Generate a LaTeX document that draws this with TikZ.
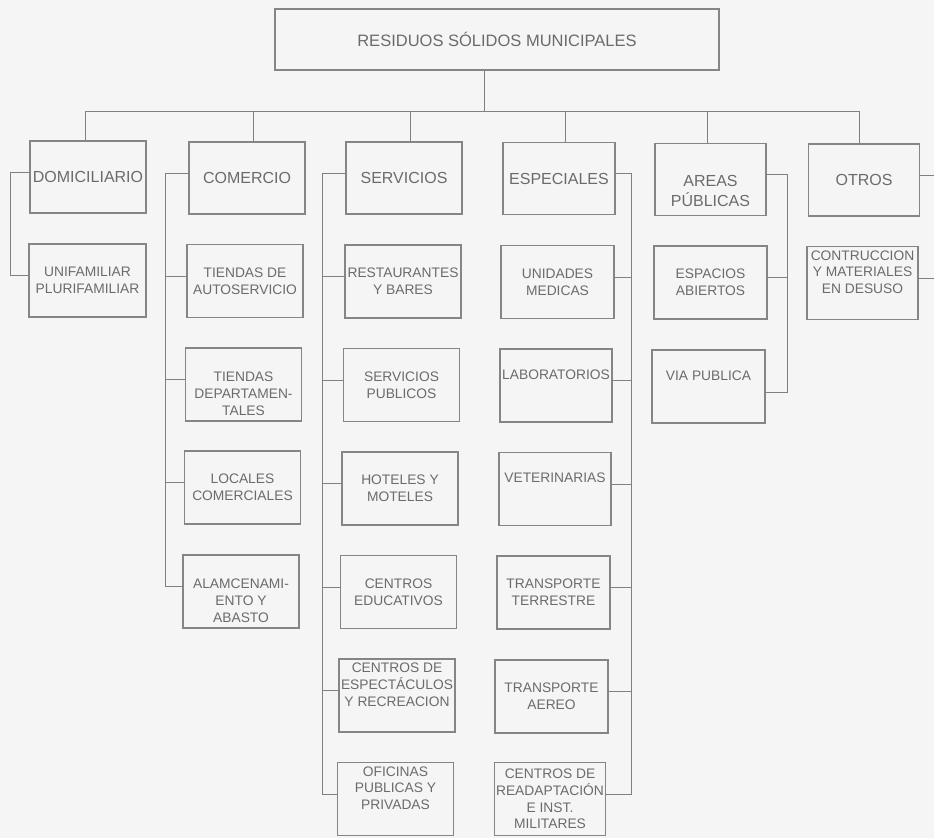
\documentclass[tikz,border=0pt]{standalone}
\usepackage{fontspec}
\setmainfont{Liberation Sans}
\usetikzlibrary{calc}

\tikzset{
	wire/.style={line width=1pt, color=black!50},
	boxline/.style={draw=black!48, line width=1.5pt, text=black!58, align=center, inner sep=1pt},
	titlebox/.style={boxline, minimum width=444pt, minimum height=61pt, font=\fontsize{16.5}{20}\selectfont},
	catbox/.style={boxline, minimum width=116pt, minimum height=72pt, font=\fontsize{16}{20}\selectfont},
	subbox/.style={boxline, minimum width=116pt, minimum height=73pt, font=\fontsize{13.8}{16.7}\selectfont},
}

\begin{document}
\begin{tikzpicture}[x=1pt, y=-1pt]
		%%%%% START %%%%%
		
		\fill[black!4] (0, 0) rectangle (934, 838);
		\useasboundingbox (0, 0) rectangle (934, 838);
		
		\node[titlebox] (rsm) at (497, 39.5) {RESIDUOS SÓLIDOS MUNICIPALES};
		
		\node[catbox] (dom) at (88, 177) {DOMICILIARIO};
		\node[catbox] (com) at (247, 178) {COMERCIO};
		\node[catbox] (ser) at (404, 178) {SERVICIOS};
		\node[catbox, minimum width=112pt] (esp) at (559, 178.5) {ESPECIALES};
		\node[catbox, minimum width=111pt] (are) at (710.5, 179.5) {\strut\\AREAS\\PÚBLICAS};
		\node[catbox, minimum width=111pt] (otr) at (864, 180) {OTROS};
		
		\coordinate (bus) at (484, 111);
		\draw[wire] (bus |- rsm.south) -- (bus);
		\coordinate (domtop) at ([xshift=-3]dom.north);
		\coordinate (comtop) at ([xshift=6]com.north);
		\coordinate (sertop) at ([xshift=6]ser.north);
		\coordinate (esptop) at ([xshift=6]esp.north);
		\coordinate (aretop) at ([xshift=-3]are.north);
		\coordinate (otrtop) at ([xshift=-5]otr.north);
		\foreach \n in {domtop, comtop, sertop, esptop, aretop, otrtop}
			\draw[wire] (\n) -- (\n |- bus);
		\draw[wire] (domtop |- bus) -- (otrtop |- bus);
		
		% domiciliario
		\node[subbox, minimum width=117pt] (uni) at (87.5, 280.5) {UNIFAMILIAR\\PLURIFAMILIAR};
		\coordinate (domL) at (10, 0);
		\draw[wire] ([yshift=5]dom.west) -| ([yshift=5]domL |- uni.west) -- ([yshift=5]uni.west);
		
		% comercio
		\node[subbox] (tda) at (245, 281) {TIENDAS DE\\AUTOSERVICIO};
		\node[subbox] (dep) at (243.5, 384.5) {\strut\\TIENDAS\\DEPARTAMEN-\\TALES};
		\node[subbox] (loc) at (242.5, 487.5) {LOCALES\\COMERCIALES};
		\node[subbox] (alm) at (241, 591.5) {\strut\\ALAMCENAMI-\\ENTO Y\\ABASTO};
		\coordinate (comL) at (165, 0);
		\draw[wire] ([yshift=5]com.west) -| ([yshift=5]comL |- alm.west) -- ([yshift=5]alm.west);
		\foreach \n in {tda, dep, loc}
			\draw[wire] ([yshift=5]\n.west) -- ([yshift=5]comL |- \n.west);
		
		% servicios
		\node[subbox] (res) at (403, 281.5) {RESTAURANTES\\Y BARES};
		\node[subbox] (spu) at (401.5, 385) {SERVICIOS\\PUBLICOS};
		\node[subbox] (hot) at (400, 488.5) {HOTELES Y\\MOTELES};
		\node[subbox] (edu) at (398.5, 592) {CENTROS\\EDUCATIVOS};
		\node[subbox] (esc) at (397, 695.5) {CENTROS DE\\ESPECTÁCULOS\\Y RECREACION\\\strut};
		\node[subbox] (ofi) at (395.5, 799) {OFICINAS\\PUBLICAS Y\\PRIVADAS\\\strut};
		\coordinate (serL) at (322, 0);
		\draw[wire] ([yshift=5]ser.west) -| ([yshift=5]serL |- ofi.west) -- ([yshift=5]ofi.west);
		\foreach \n in {res, spu, hot, edu, esc}
			\draw[wire] ([yshift=5]\n.west) -- ([yshift=5]serL |- \n.west);
		
		% especiales
		\node[subbox, minimum width=113pt] (med) at (557.5, 282) {UNIDADES\\MEDICAS};
		\node[subbox, minimum width=112pt] (lab) at (556, 385.5) {LABORATORIOS\\\strut};
		\node[subbox, minimum width=112pt] (vet) at (555, 489) {VETERINARIAS\\\strut};
		\node[subbox, minimum width=113pt] (ter) at (553.5, 592.5) {TRANSPORTE\\TERRESTRE};
		\node[subbox, minimum width=113pt] (aer) at (551.5, 696.5) {TRANSPORTE\\AEREO};
		\node[subbox, minimum width=111pt, inner sep=0pt] (rea) at (550, 799) {CENTROS DE\\READAPTACIÓN\\E INST.\\MILITARES};
		\coordinate (espR) at (631, 0);
		\draw[wire] ([yshift=5]esp.east) -| ([yshift=5]espR |- rea.east) -- ([yshift=5]rea.east);
		\foreach \n in {med, lab, vet, ter, aer}
			\draw[wire] ([yshift=5]\n.east) -- ([yshift=5]espR |- \n.east);
		
		% areas publicas
		\node[subbox, minimum width=113pt] (esa) at (710.5, 282.5) {ESPACIOS\\ABIERTOS};
		\node[subbox, minimum width=113pt] (via) at (708.5, 386.5) {VIA PUBLICA\\\strut};
		\coordinate (areR) at (787, 0);
		\draw[wire] ([yshift=5]are.east) -| ([yshift=-6]areR |- via.east) -- ([yshift=-6]via.east);
		\draw[wire] ([yshift=5]esa.east) -- ([yshift=5]areR |- esa.east);
		
		% otros
		\node[subbox, minimum width=111pt] (con) at (862.5, 283) {CONTRUCCION\\Y MATERIALES\\EN DESUSO\\\strut};
		\coordinate (otrR) at (934, 0);
		\draw[wire] ([yshift=5]otr.east) -- ([yshift=5]otrR |- otr.east);
		\draw[wire] ([yshift=5]con.east) -- ([yshift=5]otrR |- con.east);
		
		%%%%% END %%%%%
	\end{tikzpicture}
\end{document}
